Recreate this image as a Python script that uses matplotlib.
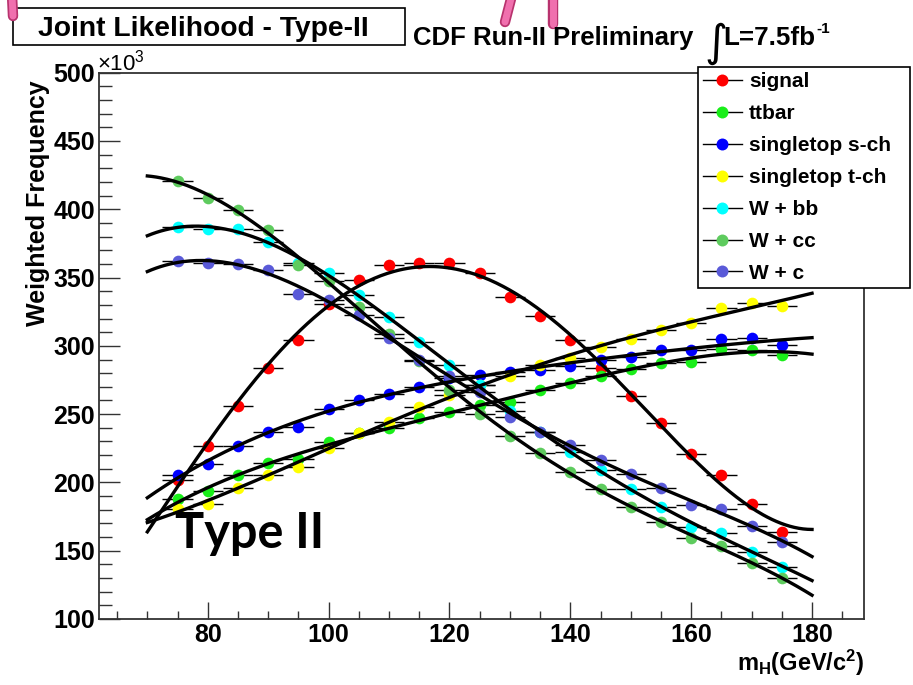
import numpy as np
import matplotlib
matplotlib.use("Agg")
import matplotlib.pyplot as plt
from matplotlib.lines import Line2D
from matplotlib.patches import Rectangle

plt.rcParams['font.family'] = ['Liberation Sans', 'DejaVu Sans']
plt.rcParams['mathtext.default'] = 'regular'

W, H = 913, 685

# Higgs mass points (GeV/c^2), values in units of 10^3
mass = [75, 80, 85, 90, 95, 100, 105, 110, 115, 120, 125,
        130, 135, 140, 145, 150, 155, 160, 165, 170, 175]

signal = [202, 226.5, 256, 284, 304, 331, 348, 359, 361, 360.5, 353,
          336, 322, 304, 284, 263, 243.5, 220.5, 205.5, 184.5, 163.5]
ttbar = [187.5, 193.5, 205.5, 214.5, 217, 229.5, 236, 239.6, 247, 251.5, 256.5,
         259, 267.5, 272.5, 278, 283, 287.5, 288.5, 297.5, 297, 293.5]
stop_s = [205.5, 213.5, 227, 237, 240.5, 253.5, 260.3, 264.7, 270.2, 276.7, 278.6,
          280.5, 282.3, 285.2, 289.6, 291.6, 296.9, 296.9, 304.8, 305.5, 300.6]
stop_t = [180.5, 184.5, 196, 205.2, 211.3, 225.5, 236.2, 244.5, 255.5, 264, 271,
          277.8, 286, 290.9, 299.4, 304.8, 311.6, 317, 327.5, 331.2, 329.2]
wbb = [387.2, 385.5, 385.5, 376.3, 361, 353, 337.2, 321.4, 303, 286, 271.3,
       252, 237, 222.5, 209.1, 195, 182.2, 167.6, 162.7, 149.3, 138.3]
wcc = [420.7, 408.5, 399.5, 384.8, 359.2, 347.7, 328.7, 309, 289, 268, 250,
       234, 221.3, 207.9, 195, 182.2, 171.3, 159.1, 153.7, 140.8, 130]
wc = [362.1, 360.4, 360, 355.5, 338, 333.6, 322.6, 306, 290, 278, 266.5,
      248.1, 237.2, 227.4, 216.4, 206.2, 195.7, 183.5, 180.3, 168.1, 156.6]

labels = ['signal', 'ttbar', 'singletop s-ch', 'singletop t-ch',
          'W + bb', 'W + cc', 'W + c']
series = [signal, ttbar, stop_s, stop_t, wbb, wcc, wc]
colors = ['#ff0000', '#19ee19', '#0000ff', '#ffff00',
          '#00ffff', '#5ecb5e', '#5a5ad8']
fit_deg = [4, 4, 4, 4, 4, 4, 4]
bin_half = 2.5


def px(x, y):
    return x / W, 1 - y / H


fig = plt.figure(figsize=(W / 100, H / 100), dpi=100)
ax = fig.add_axes([99 / W, 1 - 619 / H, (864 - 99) / W, (619 - 72.7) / H])

m = np.array(mass, dtype=float)
xf = np.linspace(70, 180, 300)
for vals, c in zip(series, colors):
    v = np.array(vals)
    ax.errorbar(m, v, xerr=bin_half, fmt='none', ecolor='k', elinewidth=1.0, zorder=2)
    ax.plot(m, v, 'o', color=c, markersize=8.4, markeredgewidth=0, zorder=3)
for vals, deg in zip(series, fit_deg):
    coef = np.polyfit(m, np.array(vals), deg)
    ax.plot(xf, np.polyval(coef, xf), color='k', lw=2.4, zorder=4)

ax.set_xlim(62.0, 188.6)
ax.set_ylim(100, 500)
ax.set_xticks(np.arange(80, 181, 20))
ax.set_xticks(np.arange(65, 188, 5), minor=True)
ax.set_yticks(np.arange(100, 501, 50))
ax.set_yticks(np.arange(100, 501, 10), minor=True)
ax.tick_params(direction='in', which='both', top=False, right=False, width=1.0, color='#333333')
ax.tick_params(axis='y', which='major', length=15, labelsize=18, pad=3)
ax.tick_params(axis='y', which='minor', length=9)
ax.tick_params(axis='x', which='major', length=12, labelsize=18, pad=3)
ax.tick_params(axis='x', which='minor', length=6)
for lab in ax.get_xticklabels() + ax.get_yticklabels():
    lab.set_fontweight('bold')
for s in ax.spines.values():
    s.set_linewidth(1.3)
    s.set_color('#333333')

# legend
handles = [Line2D([], [], color='k', lw=1.0, marker='o', markersize=8.6,
                  markerfacecolor=c, markeredgewidth=0) for c in colors]
x0, y0 = px(698, 67)
x1, _ = px(910, 0)
leg = ax.legend(handles, labels, loc='upper left', mode='expand',
                bbox_to_anchor=(x0, y0 - 0.5, x1 - x0, 0.5), bbox_transform=fig.transFigure,
                prop={'weight': 'bold', 'size': 15}, fancybox=False, edgecolor='k',
                framealpha=1, borderaxespad=0, borderpad=0.25, handlelength=1.85,
                handletextpad=0.35, labelspacing=0.62)
leg.get_frame().set_linewidth(1.2)
leg.set_zorder(10)

# title box
fig.add_artist(Rectangle(px(13, 45), 392 / W, 37 / H, transform=fig.transFigure,
                         facecolor='white', edgecolor='k', lw=1.2))
fig.text(*px(38, 36), 'Joint Likelihood - Type-II', fontsize=20.3, fontweight='bold',
         va='baseline', ha='left')
fig.text(*px(413, 45), 'CDF Run-II Preliminary', fontsize=18.5, fontweight='bold',
         va='baseline', ha='left')
fig.text(*px(704, 56), '\u222b', fontsize=32, family='DejaVu Sans', va='baseline', ha='left')
fig.text(*px(723, 45), 'L=7.5fb', fontsize=18.7, fontweight='bold',
         va='baseline', ha='left')
fig.text(*px(816, 33), '-1', fontsize=11, fontweight='bold', va='baseline', ha='left')

fig.text(*px(97, 70), r'$\times$10$^{3}$', fontsize=16, va='baseline', ha='left')
fig.text(*px(38, 80), 'Weighted Frequency', fontsize=18, fontweight='bold',
         rotation=90, ha='center', va='top')
fig.text(*px(864, 671), r'm$_{H}$(GeV/c$^{2}$)', fontsize=17, fontweight='bold',
         ha='right', va='baseline')

fig.text(*px(175, 548), 'Type II', fontsize=35, family='Lato', fontweight='bold',
         ha='left', va='baseline')

# pink marks at the top edge
for pts in [[(12, -5), (13, 16)], [(512, -5), (505, 22)], [(553, -5), (553, 24)]]:
    xs = [p[0] / W for p in pts]
    ys = [1 - p[1] / H for p in pts]
    fig.add_artist(Line2D(xs, ys, color='#b8336e', lw=7.5, solid_capstyle='round'))
    fig.add_artist(Line2D(xs, ys, color='#f070ae', lw=5, solid_capstyle='round'))

fig.savefig('out.png', dpi=100)
